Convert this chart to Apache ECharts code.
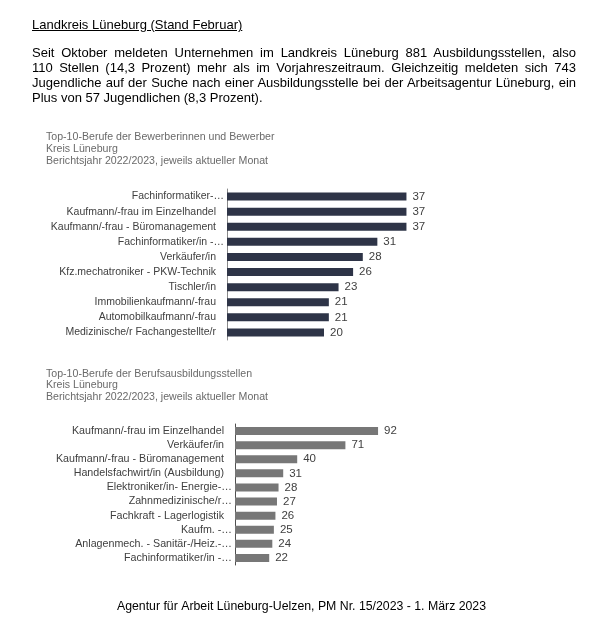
<!DOCTYPE html>
<html>
<head>
<meta charset="utf-8">
<script src="https://cdn.jsdelivr.net/npm/echarts@6/dist/echarts.min.js"></script>
<style>
    html, body { margin: 0; padding: 0; background: #fff; }
    #page { position: relative; width: 603px; height: 622px; overflow: hidden; }
    #chart { position: absolute; left: 0; top: 0; width: 603px; height: 622px; }
    .txt { position: absolute; left: 32px; font-family: "Liberation Sans", Arial, sans-serif; font-size: 13px; line-height: 15px; color: #000; white-space: nowrap; }
    .kopf { top: 17px; text-decoration: underline; }
    .absatz { top: 45px; width: 544px; }
    .absatz div { text-align: justify; text-align-last: justify; }
    .absatz div.letzte { text-align: left; text-align-last: left; }
</style>
</head>
<body>
<div id="page">
    <div id="chart"></div>
    <div class="txt kopf">Landkreis Lüneburg (Stand Februar)</div>
    <div class="txt absatz">
        <div>Seit Oktober meldeten Unternehmen im Landkreis Lüneburg 881 Ausbildungsstellen, also</div>
        <div>110 Stellen (14,3 Prozent) mehr als im Vorjahreszeitraum. Gleichzeitig meldeten sich 743</div>
        <div>Jugendliche auf der Suche nach einer Ausbildungsstelle bei der Arbeitsagentur Lüneburg, ein</div>
        <div class="letzte">Plus von 57 Jugendlichen (8,3 Prozent).</div>
    </div>
</div>
<script>
    // Top-10 Bewerber
    const berufeBewerber = ['Fachinformatiker-…', 'Kaufmann/-frau im Einzelhandel', 'Kaufmann/-frau - Büromanagement',
        'Fachinformatiker/in -…', 'Verkäufer/in', 'Kfz.mechatroniker - PKW-Technik', 'Tischler/in',
        'Immobilienkaufmann/-frau', 'Automobilkaufmann/-frau', 'Medizinische/r Fachangestellte/r'];
    const werteBewerber = [37, 37, 37, 31, 28, 26, 23, 21, 21, 20];

    // Top-10 Ausbildungsstellen
    const berufeStellen = ['Kaufmann/-frau im Einzelhandel', 'Verkäufer/in', 'Kaufmann/-frau - Büromanagement',
        'Handelsfachwirt/in (Ausbildung)', 'Elektroniker/in- Energie-…', 'Zahnmedizinische/r…',
        'Fachkraft - Lagerlogistik', 'Kaufm. -…', 'Anlagenmech. - Sanitär-/Heiz.-…', 'Fachinformatiker/in -…'];
    const werteStellen = [92, 71, 40, 31, 28, 27, 26, 25, 24, 22];

    const titelBewerber = 'Top-10-Berufe der Bewerberinnen und Bewerber\nKreis Lüneburg\nBerichtsjahr 2022/2023, jeweils aktueller Monat';
    const titelStellen = 'Top-10-Berufe der Berufsausbildungsstellen\nKreis Lüneburg\nBerichtsjahr 2022/2023, jeweils aktueller Monat';
    const quelle = 'Agentur für Arbeit Lüneburg-Uelzen, PM Nr. 15/2023 - 1. März 2023';

    const schrift = '"Liberation Sans", Arial, sans-serif';

    function labelFormat(v) {
        // abgeschnittene Namen stehen direkt an der Achse
        return v.endsWith('…') ? v : '{p|' + v + '}';
    }

    function kategorieAchse(idx, daten, achsFarbe, groesse) {
        return {
            type: 'category',
            gridIndex: idx,
            inverse: true,
            data: daten,
            axisLine: { show: true, lineStyle: { color: achsFarbe, width: 1 } },
            axisTick: { show: false },
            axisLabel: {
                interval: 0,
                margin: 3,
                fontFamily: schrift,
                fontSize: groesse,
                color: '#404040',
                formatter: labelFormat,
                rich: { p: { padding: [0, 8, 0, 0], fontFamily: schrift, fontSize: groesse, color: '#404040' } }
            }
        };
    }

    function werteAchse(idx, max) {
        return {
            type: 'value',
            gridIndex: idx,
            min: 0,
            max: max,
            show: false,
            splitLine: { show: false }
        };
    }

    function balken(idx, werte, farbe) {
        return {
            type: 'bar',
            xAxisIndex: idx,
            yAxisIndex: idx,
            data: werte,
            barWidth: 8,
            itemStyle: { color: farbe },
            label: {
                show: true,
                position: 'right',
                distance: 6,
                fontFamily: schrift,
                fontSize: 11.5,
                color: '#404040'
            }
        };
    }

    const myChart = echarts.init(document.getElementById('chart'));
    const option = {
        animation: false,
        backgroundColor: '#fff',
        title: [
            {
                text: titelBewerber, left: 41, top: 126,
                textStyle: { fontFamily: schrift, fontSize: 10.6, fontWeight: 'normal', color: '#6a6a6a', lineHeight: 12 }
            },
            {
                text: titelStellen, left: 41, top: 363,
                textStyle: { fontFamily: schrift, fontSize: 10.6, fontWeight: 'normal', color: '#6a6a6a', lineHeight: 11.7 }
            },
            {
                text: quelle, left: 'center', top: 596,
                textStyle: { fontFamily: schrift, fontSize: 12.3, fontWeight: 'normal', color: '#000' }
            }
        ],
        grid: [
            { left: 227, top: 189, width: 194, height: 151 },
            { left: 235, top: 424, width: 155.5, height: 141 }
        ],
        xAxis: [werteAchse(0, 40), werteAchse(1, 100)],
        yAxis: [kategorieAchse(0, berufeBewerber, '#8a8a8a', 10.5), kategorieAchse(1, berufeStellen, '#505050', 10.7)],
        series: [balken(0, werteBewerber, '#2e3447'), balken(1, werteStellen, '#777777')]
    };
    myChart.setOption(option);
</script>
</body>
</html>
